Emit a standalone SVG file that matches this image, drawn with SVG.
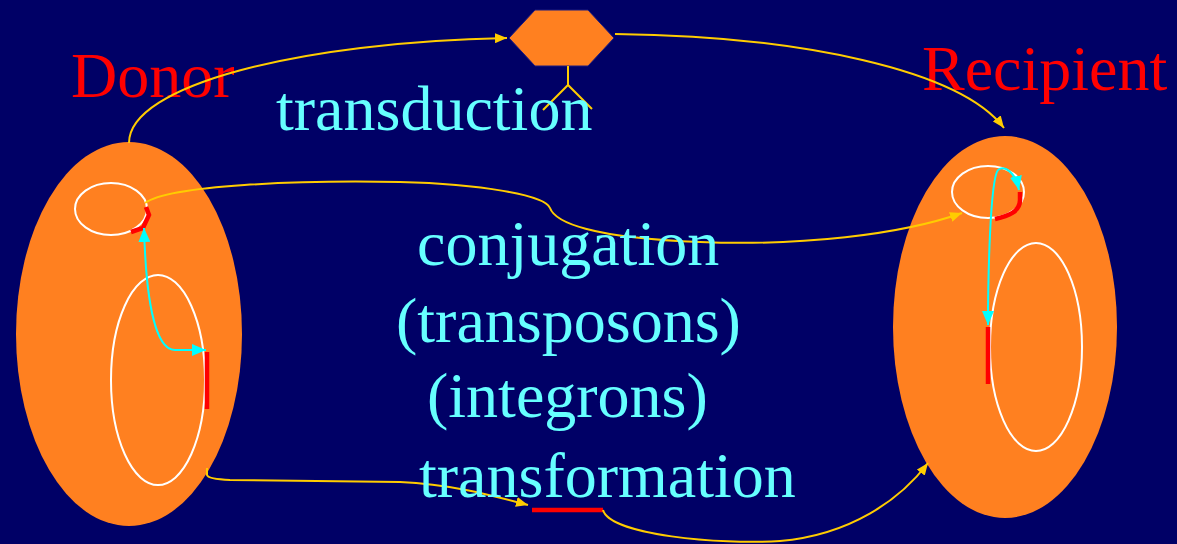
<svg xmlns="http://www.w3.org/2000/svg" width="1177" height="544" viewBox="0 0 1177 544">
  <style>
    .cell { fill: #FF8020; }
    .dna { fill: none; stroke: #FFFFFF; stroke-width: 2; }
    .gene { fill: none; stroke: #FF0000; stroke-width: 4.5; }
    .flow { fill: none; stroke: #FFCC00; stroke-width: 2; }
    .jump { fill: none; stroke: #00FFFF; stroke-width: 2; }
    .label { font-family: "Liberation Serif", "Times New Roman", serif; font-size: 64px; }
    .title { fill: #FF0000; }
    .mech { fill: #66FFFF; }
  </style>
  <defs>
    <marker id="arrowYellow" viewBox="0 0 12 10" refX="12" refY="5" markerWidth="12" markerHeight="10" markerUnits="userSpaceOnUse" orient="auto">
      <path d="M0,0 L12,5 L0,10 Z" fill="#FFCC00"/>
    </marker>
    <marker id="arrowCyan" viewBox="0 0 14 12" refX="14" refY="6" markerWidth="14" markerHeight="12" markerUnits="userSpaceOnUse" orient="auto-start-reverse">
      <path d="M0,0 L14,6 L0,12 Z" fill="#00FFFF"/>
    </marker>
  </defs>

  <rect width="1177" height="544" fill="#000066"/>

  <!-- donor bacterium -->
  <g id="donor">
    <ellipse class="cell" cx="129" cy="334" rx="113" ry="192"/>
    <ellipse class="dna" cx="111" cy="209" rx="36" ry="26"/>
    <ellipse class="dna" cx="158" cy="380" rx="47" ry="105"/>
    <polyline class="gene" points="131,232 143,228 149,215 146,207"/>
    <line class="gene" x1="207" y1="352" x2="207" y2="409"/>
    <text class="label title" x="71" y="97">Donor</text>
  </g>

  <!-- recipient bacterium -->
  <g id="recipient">
    <ellipse class="cell" cx="1005" cy="327" rx="112" ry="191"/>
    <ellipse class="dna" cx="988" cy="192" rx="36" ry="26"/>
    <ellipse class="dna" cx="1036" cy="347" rx="46" ry="104"/>
    <path class="gene" d="M995,219 C1008,216 1020,212 1020,200 L1020,192"/>
    <line class="gene" x1="988" y1="327" x2="988" y2="384"/>
    <text class="label title" x="922" y="90">Recipient</text>
  </g>

  <!-- bacteriophage -->
  <g id="phage">
    <polygon points="509,38 535,10 588,10 614,38 588,66 535,66" fill="#FF8020" stroke="#1a1a80" stroke-width="1"/>
    <polyline points="568,66 568,85" fill="none" stroke="#FFCC00" stroke-width="2"/>
    <polyline points="543,110 568,85 592,109" fill="none" stroke="#FFCC00" stroke-width="2"/>
  </g>

  <!-- transfer routes -->
  <g id="connectors">
    <path class="flow" d="M129,143 C129,85 300,42 507,38" marker-end="url(#arrowYellow)"/>
    <path class="flow" d="M615,34 C800,36 960,70 1004,128" marker-end="url(#arrowYellow)"/>
    <path class="flow" d="M145,203 C170,185 300,180 400,182 C480,184 545,195 550,208 C555,222 590,238 700,242 C800,246 900,235 962,213" marker-end="url(#arrowYellow)"/>
    <path class="flow" d="M207,468 L207,475 Q208,479 230,480 L400,482 C450,484 490,495 528,505" marker-end="url(#arrowYellow)"/>
    <line class="gene" x1="532" y1="510" x2="603" y2="510"/>
    <path class="flow" d="M603,510 C610,535 720,545 780,541 C850,535 900,500 928,463" marker-end="url(#arrowYellow)"/>
    <path class="jump" d="M144,228 C146,300 155,350 175,350 L206,350" marker-start="url(#arrowCyan)" marker-end="url(#arrowCyan)"/>
    <path class="jump" d="M1019,190 C1015,172 1005,165 998,170 C990,180 988,280 988,325" marker-start="url(#arrowCyan)" marker-end="url(#arrowCyan)"/>
  </g>

  <!-- mechanism labels -->
  <g id="labels">
    <text class="label mech" x="276" y="130">transduction</text>
    <text class="label mech" x="417" y="265">conjugation</text>
    <text class="label mech" x="396" y="342">(transposons)</text>
    <text class="label mech" x="427" y="417">(integrons)</text>
    <text class="label mech" x="419" y="497">transformation</text>
  </g>
</svg>
